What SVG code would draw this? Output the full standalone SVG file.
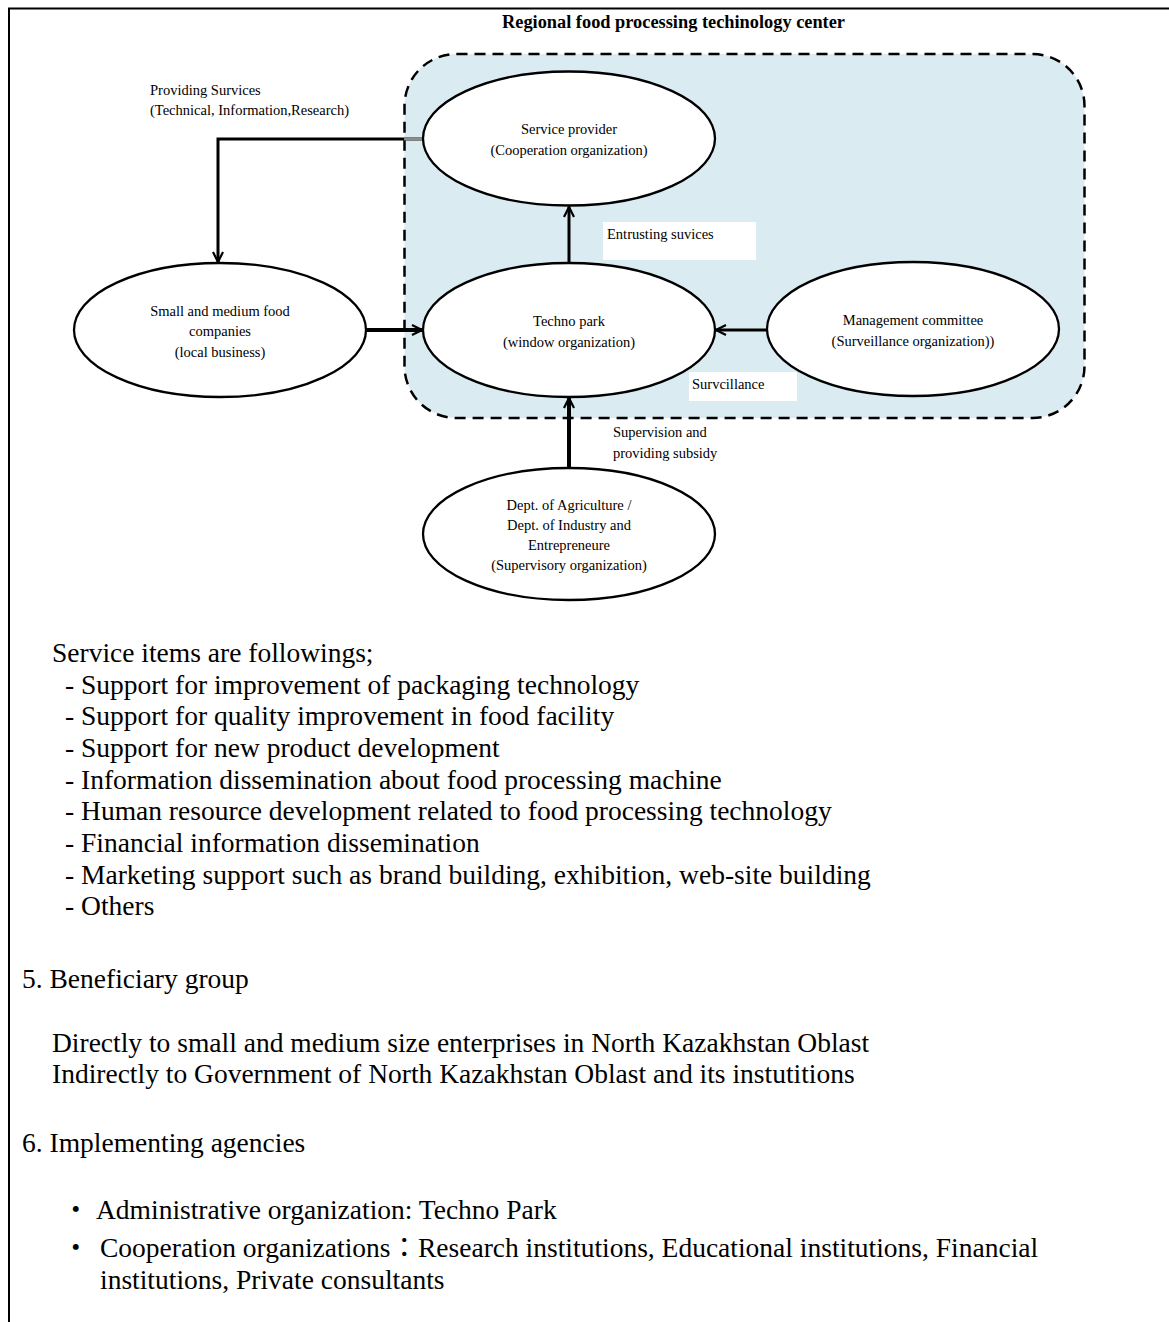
<svg xmlns="http://www.w3.org/2000/svg" width="1169" height="1322" viewBox="0 0 1169 1322">
  <style>
    .node ellipse { fill: #ffffff; stroke: #000000; stroke-width: 2.3; }
    .lbl { font-family: "Liberation Serif", "Times New Roman", serif; font-size: 14.5px; fill: #000000; }
    .mid { text-anchor: middle; }
    .body { font-family: "Liberation Serif", "Noto Sans CJK JP", serif; font-size: 27.5px; fill: #000000; }
    .title { font-family: "Liberation Serif", serif; font-size: 18px; font-weight: bold; fill: #000000; }
    .conn { fill: none; stroke: #000000; }
    .tag { fill: #ffffff; stroke: none; }
  </style>
  <defs>
    <marker id="arrow" viewBox="0 0 12 12" refX="11" refY="6" markerWidth="12" markerHeight="12" markerUnits="userSpaceOnUse" orient="auto">
      <path d="M1,1 L11,6 L1,11" fill="none" stroke="#000000" stroke-width="2.2"/>
    </marker>
  </defs>

  <rect width="1169" height="1322" fill="#ffffff"/>

  <!-- page frame -->
  <path d="M9,1322 V8.5 H1169" fill="none" stroke="#000000" stroke-width="2"/>

  <!-- center title -->
  <text class="title" x="502" y="28" textLength="343" lengthAdjust="spacingAndGlyphs">Regional food processing techinology center</text>

  <!-- regional center boundary -->
  <g id="center-boundary">
    <rect x="404.5" y="54" width="680" height="364" rx="52" ry="52" fill="#daecf2" stroke="#000000" stroke-width="2.5" stroke-dasharray="11 7"/>
  </g>

  <!-- connectors -->
  <g id="connectors">
    <path class="conn" d="M423,139 H218 V262" stroke-width="3" marker-end="url(#arrow)"/>
    <line x1="404" y1="139" x2="423" y2="139" stroke="#8c8c8c" stroke-width="3"/>
    <line class="conn" x1="366" y1="330" x2="422" y2="330" stroke-width="4" marker-end="url(#arrow)"/>
    <line class="conn" x1="569" y1="263" x2="569" y2="207" stroke-width="3" marker-end="url(#arrow)"/>
    <line class="conn" x1="767" y1="330" x2="716" y2="330" stroke-width="3" marker-end="url(#arrow)"/>
    <line class="conn" x1="569" y1="468" x2="569" y2="398" stroke-width="4" marker-end="url(#arrow)"/>
  </g>

  <!-- connector labels -->
  <g id="label-providing">
    <text class="lbl" x="150" y="95">Providing Survices</text>
    <text class="lbl" x="150" y="115">(Technical, Information,Research)</text>
  </g>
  <g id="label-entrusting">
    <rect class="tag" x="603" y="222" width="153" height="38"/>
    <text class="lbl" x="607" y="239">Entrusting suvices</text>
  </g>
  <g id="label-surveillance">
    <rect class="tag" x="689" y="372" width="108" height="29"/>
    <text class="lbl" x="692" y="389">Survcillance</text>
  </g>
  <g id="label-supervision">
    <text class="lbl" x="613" y="437">Supervision and</text>
    <text class="lbl" x="613" y="458">providing subsidy</text>
  </g>

  <!-- nodes -->
  <g id="service-provider" class="node">
    <ellipse cx="569" cy="138.5" rx="146" ry="67"/>
    <text class="lbl mid" x="569" y="134">Service provider</text>
    <text class="lbl mid" x="569" y="155">(Cooperation organization)</text>
  </g>
  <g id="techno-park" class="node">
    <ellipse cx="569" cy="330" rx="146" ry="67"/>
    <text class="lbl mid" x="569" y="326">Techno park</text>
    <text class="lbl mid" x="569" y="347">(window organization)</text>
  </g>
  <g id="food-companies" class="node">
    <ellipse cx="220" cy="330" rx="146" ry="67"/>
    <text class="lbl mid" x="220" y="316">Small and medium food</text>
    <text class="lbl mid" x="220" y="336">companies</text>
    <text class="lbl mid" x="220" y="357">(local business)</text>
  </g>
  <g id="management-committee" class="node">
    <ellipse cx="913" cy="329" rx="146" ry="67"/>
    <text class="lbl mid" x="913" y="325">Management committee</text>
    <text class="lbl mid" x="913" y="346">(Surveillance organization))</text>
  </g>
  <g id="supervisory-depts" class="node">
    <ellipse cx="569" cy="534" rx="146" ry="66"/>
    <text class="lbl mid" x="569" y="510">Dept. of Agriculture /</text>
    <text class="lbl mid" x="569" y="530">Dept. of Industry and</text>
    <text class="lbl mid" x="569" y="550">Entrepreneure</text>
    <text class="lbl mid" x="569" y="570">(Supervisory organization)</text>
  </g>

  <!-- document text -->
  <g id="service-items">
    <text class="body" x="52" y="662">Service items are followings;</text>
    <text class="body" x="65" y="693.5">- Support for improvement of packaging technology</text>
    <text class="body" x="65" y="725">- Support for quality improvement in food facility</text>
    <text class="body" x="65" y="757">- Support for new product development</text>
    <text class="body" x="65" y="788.5">- Information dissemination about food processing machine</text>
    <text class="body" x="65" y="820">- Human resource development related to food processing technology</text>
    <text class="body" x="65" y="852">- Financial information dissemination</text>
    <text class="body" x="65" y="883.5">- Marketing support such as brand building, exhibition, web-site building</text>
    <text class="body" x="65" y="915">- Others</text>
  </g>
  <g id="beneficiary">
    <text class="body" x="22" y="988">5. Beneficiary group</text>
    <text class="body" x="52" y="1052">Directly to small and medium size enterprises in North Kazakhstan Oblast</text>
    <text class="body" x="52" y="1083">Indirectly to Government of North Kazakhstan Oblast and its instutitions</text>
  </g>
  <g id="agencies">
    <text class="body" x="22" y="1152">6. Implementing agencies</text>
    <text class="body" x="62" y="1219">・</text>
    <text class="body" x="96" y="1219">Administrative organization: Techno Park</text>
    <text class="body" x="62" y="1257">・</text>
    <text class="body" x="100" y="1257">Cooperation organizations：Research institutions, Educational institutions, Financial</text>
    <text class="body" x="100" y="1289">institutions, Private consultants</text>
  </g>
</svg>
